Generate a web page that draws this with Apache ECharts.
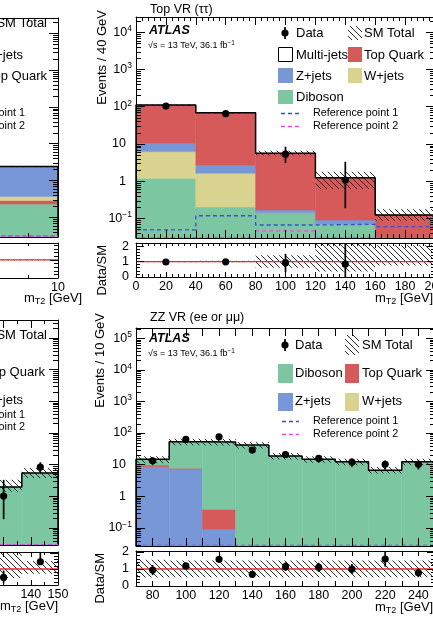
<!DOCTYPE html>
<html><head><meta charset="utf-8">
<script src="https://cdn.jsdelivr.net/npm/echarts@6/dist/echarts.min.js"></script>
<style>html,body{margin:0;padding:0;background:#fff;overflow:hidden;width:433px;height:619px;position:relative}
#c{position:absolute;left:-300px;top:0;width:800px;height:619px}</style>
</head><body><div id="c"></div>
<script>
// ===================== DATA =====================
// --- Top-left panel (only its last bin is visible) ---
const tlEdges     = [6, 10];
const tlDiboson   = [0.23];
const tlTopQuark  = [0.06];
const tlWjets     = [0.08];
const tlZjets     = [2.03];
const tlUncLo     = [0.04];
const tlUncHi     = [0.04];
const tlRef1      = [0.031];
const tlRef2      = [0.030];
const tlBandLo    = [0.97];
const tlBandHi    = [1.03];

// --- Top-right panel: Top VR (tau tau) ---
const topEdges     = [0, 40, 80, 120, 160, 200];
const topDiboson   = [1.19, 0.20, 0.14, 0.07, 0];
const topWjets     = [5.0, 1.42, 0, 0, 0];
const topZjets     = [4.3, 1.10, 0.026, 0.02, 0];
const topTopQuark  = [100, 66, 5.4, 1.14, 0.123];
const topMultijets = [0, 0, 0, 0, 0];
const topUncLo     = [0.04, 0.04, 0.12, 0.50, 0.30];
const topUncHi     = [0.04, 0.04, 0.18, 0.45, 0.43];
const topRef1      = [0.049, 0.117, 0.066, 0.069, 0.060];
const topRef2      = [0.030, 0.030, 0.046, 0.030, 0.030];
const topDataX     = [20, 60, 100, 140];
const topData      = [104, 65, 5.3, 1.07];
const topDataLo    = [94, 57, 3.1, 0.185];
const topDataHi    = [114, 73, 8.4, 3.3];
const topRatio     = [0.97, 0.98, 0.93, 0.83];
const topRatioLo   = [0.88, 0.86, 0.31, 0.0];
const topRatioHi   = [1.07, 1.10, 1.50, 2.9];
const topBandLo    = [0.96, 0.95, 0.60, 0.35, 0.75];
const topBandHi    = [1.04, 1.05, 1.40, 2.30, 2.05];

// --- Bottom-left panel (only its last two bins are visible) ---
const blEdges     = [123.3, 136.7, 150];
const blDiboson   = [1.97, 5.46];
const blUncLo     = [0.29, 0.30];
const blUncHi     = [0.68, 0.43];
const blRef1      = [0.030, 0.030];
const blRef2      = [0.030, 0.030];
const blDataX     = [130, 143.5];
const blData      = [1.02, 8.4];
const blDataLo    = [0.19, 5.9];
const blDataHi    = [3.3, 11.9];
const blRatio     = [0.47, 1.45];
const blRatioLo   = [0.10, 1.30];
const blRatioHi   = [0.90, 2.00];
const blBandLo    = [0.44, 0.70];
const blBandHi    = [2.00, 1.50];
const blTickLabels = [140, 150];

// --- Bottom-right panel: ZZ VR (ee or mumu) ---
const zzEdges     = [70, 90, 110, 130, 150, 170, 190, 210, 230, 250];
const zzZjets     = [8.6, 7.1, 0.093, 0, 0, 0, 0, 0, 0];
const zzWjets     = [0, 0, 0, 0, 0, 0, 0, 0, 0];
const zzTopQuark  = [1.1, 0.6, 0.30, 0, 0, 0, 0, 0, 0];
const zzDiboson   = [5.1, 45.3, 51.6, 41.7, 18.8, 14.8, 12.4, 6.7, 12.4];
const zzUncLo     = [0.25, 0.22, 0.22, 0.22, 0.22, 0.22, 0.22, 0.22, 0.22];
const zzUncHi     = [0.25, 0.25, 0.25, 0.25, 0.25, 0.25, 0.25, 0.25, 0.25];
const zzRef1      = [0.028, 0.028, 0.028, 0.028, 0.028, 0.028, 0.028, 0.028, 0.028];
const zzRef2      = [0.0275, 0.0275, 0.0275, 0.0275, 0.0275, 0.0275, 0.0275, 0.0275, 0.0275];
const zzDataX     = [80, 100, 120, 140, 160, 180, 200, 220, 240];
const zzData      = [13.3, 63, 76, 29, 21, 15.8, 12.1, 10.3, 10.3];
const zzDataErr   = [3.6, 7.9, 8.7, 5.4, 4.6, 4.0, 3.5, 3.2, 3.2];
const zzRatio     = [0.94, 1.18, 1.57, 0.69, 1.14, 1.10, 1.00, 1.59, 0.78];
const zzRatioErr  = [0.30, 0.17, 0.18, 0.13, 0.25, 0.27, 0.30, 0.45, 0.26];
const zzBandLo    = [0.50, 0.52, 0.52, 0.52, 0.52, 0.52, 0.52, 0.52, 0.52];
const zzBandHi    = [1.55, 1.50, 1.50, 1.50, 1.50, 1.50, 1.50, 1.50, 1.50];

// ===================== STYLE / BUILD =====================
const OFF = 300;  // the chart canvas starts 300 px left of the window
const FONT = '"Liberation Sans", Arial, Helvetica, sans-serif';
const COL = {diboson:'#7cc6a2', top:'#d65a5a', z:'#7797d7', w:'#d9d38f', multi:'#ffffff',
             ref1:'#3b4bd8', ref2:'#ee45ee', ratio:'#e8292b'};

function hatch() {
  const c = document.createElement('canvas'); c.width = 6; c.height = 6;
  const g = c.getContext('2d'); g.strokeStyle = '#2a2a2a'; g.lineWidth = 1;
  g.beginPath(); g.moveTo(0, 0); g.lineTo(6, 6); g.moveTo(-1, 5); g.lineTo(1, 7); g.moveTo(5, -1); g.lineTo(7, 1); g.stroke();
  return {type: 'pattern', image: c, repeat: 'repeat'};
}
const HATCH = hatch();

const RICH = {
  b:  {fontFamily: FONT, fontSize: 12.5, lineHeight: 16, color: '#000'},
  bp: {fontFamily: FONT, fontSize: 12.5, lineHeight: 16, color: '#000', padding: [0, 6, 0, 0]},
  s:  {fontFamily: FONT, fontSize: 8.5, lineHeight: 8, verticalAlign: 'top', color: '#000'}
};
function logLabel(v) {
  const e = Math.log10(v), r = Math.round(e);
  if (Math.abs(e - r) > 0.01) return '';
  if (r === 0) return '{bp|1}';
  if (r === 1) return '{bp|10}';
  return '{b|10}{s|' + (r < 0 ? '\u2212' + (-r) : r) + '}';
}
function intLabel(v) { return Math.abs(v - Math.round(v)) < 1e-6 ? String(Math.round(v)) : ''; }

const grids = [], xAxes = [], yAxes = [], series = [], graphics = [];
const LBL = {fontFamily: FONT, fontSize: 12.5, color: '#000'};
const BLACK = {color: '#000', width: 1};

function addPanel(P) {
  const gM = grids.length, gR = gM + 1;
  const g = {containLabel: false, outerBoundsMode: 'none'};
  grids.push(Object.assign({left: P.left + OFF, top: P.mainTop, width: P.width, height: P.mainH}, g));
  grids.push(Object.assign({left: P.left + OFF, top: P.ratTop, width: P.width, height: P.ratH}, g));
  const ax = xAxes.length, ay = yAxes.length;
  const xAx = (grid, pos, showLabel, len, mlen) => ({
    type: 'value', gridIndex: grid, position: pos, min: P.xMin, max: P.xMax, interval: P.xInt, z: 10,
    axisLine: {show: true, onZero: false, lineStyle: BLACK},
    axisTick: {show: true, inside: true, length: len, lineStyle: BLACK},
    minorTick: {show: P.xMinor > 1, splitNumber: P.xMinor, length: mlen, lineStyle: BLACK},
    splitLine: {show: false}, minorSplitLine: {show: false},
    axisLabel: showLabel ? Object.assign({margin: 3, formatter: P.xFmt, hideOverlap: false}, LBL) : {show: false}
  });
  xAxes.push(xAx(gM, 'bottom', false, 8, 4), xAx(gM, 'top', false, 8, 4),
             xAx(gR, 'bottom', true, 5, 3), xAx(gR, 'top', false, 5, 3));
  const yLog = (pos, showLabel) => ({
    type: 'log', logBase: 10, gridIndex: gM, position: pos, min: P.yMin, max: P.yMax, z: 10,
    axisLine: {show: true, onZero: false, lineStyle: BLACK},
    axisTick: {show: true, inside: true, length: 9, lineStyle: BLACK},
    minorTick: {show: false}, splitLine: {show: false},
    axisLabel: showLabel ? Object.assign({margin: 4, formatter: logLabel, rich: RICH, hideOverlap: false}, LBL) : {show: false}
  });
  const yRat = (pos, showLabel) => ({
    type: 'value', gridIndex: gR, position: pos, min: 0, max: P.rMax, interval: 1, z: 10,
    axisLine: {show: true, onZero: false, lineStyle: BLACK},
    axisTick: {show: true, inside: true, length: 8, lineStyle: BLACK},
    minorTick: {show: true, splitNumber: 5, length: 4, lineStyle: BLACK}, splitLine: {show: false},
    axisLabel: showLabel ? Object.assign({margin: 7, formatter: intLabel, hideOverlap: false}, LBL) : {show: false}
  });
  yAxes.push(yLog('left', true), yLog('right', false), yRat('left', true), yRat('right', false));
  const xM = ax, xR = ax + 2, yM = ay, yR = ay + 2;

  // stacked fills
  const nb = P.edges.length - 1, cum = new Array(nb).fill(0), items = [];
  P.comps.forEach((c, ci) => {
    for (let i = 0; i < nb; i++) {
      const v = c.vals[i]; if (!(v > 0)) continue;
      const lo = cum[i], hi = cum[i] + v; cum[i] = hi;
      items.push([P.edges[i], P.edges[i + 1], Math.max(lo, P.yMin), hi, ci]);
    }
  });
  const colors = P.comps.map(c => c.color);
  series.push(rectSeries(xM, yM, items, v => ({fill: colors[v], stroke: colors[v], lineWidth: 0.5}), 2));
  // uncertainty band
  const band = [];
  for (let i = 0; i < nb; i++) band.push([P.edges[i], P.edges[i + 1], Math.max(cum[i] * (1 - P.uncLo[i]), P.yMin), cum[i] * (1 + P.uncHi[i]), 0]);
  series.push(rectSeries(xM, yM, band, () => ({fill: HATCH}), 3));
  // total outline
  const out = [[P.edges[0], P.yMin]];
  for (let i = 0; i < nb; i++) out.push([P.edges[i], cum[i]], [P.edges[i + 1], cum[i]]);
  out.push([P.edges[nb], P.yMin]);
  series.push(lineSeries(xM, yM, out, '#000', 1.5, 'solid', 4));
  // reference signal points
  [[P.ref1, COL.ref1], [P.ref2, COL.ref2]].forEach(([r, col]) => {
    const pts = [];
    for (let i = 0; i < nb; i++) pts.push([P.edges[i], r[i]], [P.edges[i + 1], r[i]]);
    series.push(lineSeries(xM, yM, pts, col, 1.3, [4, 3], 5));
  });
  // data
  if (P.dataX) series.push(pointSeries(xM, yM, P.dataX.map((x, i) => [x, P.data[i], Math.max(P.dataLo[i], P.yMin), P.dataHi[i]])));
  // log minor ticks
  series.push(logMinor(xM, yM, P.yMin, P.yMax, P.xMin, 5));
  // ratio pad
  const rb = [];
  for (let i = 0; i < nb; i++) rb.push([P.edges[i], P.edges[i + 1], P.bandLo[i], P.bandHi[i], 0]);
  series.push(rectSeries(xR, yR, rb, () => ({fill: HATCH}), 3));
  series.push(lineSeries(xR, yR, [[P.xMin, 1], [P.xMax, 1]], COL.ratio, 1.3, 'solid', 4));
  if (P.ratio) series.push(pointSeries(xR, yR, P.dataX.map((x, i) => [x, P.ratio[i], P.ratioLo[i], P.ratioHi[i]])));
}

function rectSeries(xi, yi, items, styleFn, z) {
  return {type: 'custom', xAxisIndex: xi, yAxisIndex: yi, clip: true, silent: true, z,
    encode: {x: [0, 1], y: [2, 3]}, data: items,
    renderItem(params, api) {
      const a = api.coord([api.value(0), api.value(3)]), b = api.coord([api.value(1), api.value(2)]);
      return {type: 'rect', shape: {x: a[0], y: a[1], width: b[0] - a[0], height: b[1] - a[1]}, style: styleFn(api.value(4))};
    }};
}
function lineSeries(xi, yi, data, color, width, type, z) {
  return {type: 'line', xAxisIndex: xi, yAxisIndex: yi, data, symbol: 'none', silent: true, z, clip: true,
    lineStyle: {color, width, type}};
}
function pointSeries(xi, yi, data) {
  return {type: 'custom', xAxisIndex: xi, yAxisIndex: yi, clip: true, silent: true, z: 8,
    encode: {x: 0, y: [1, 2, 3]}, data,
    renderItem(params, api) {
      const p = api.coord([api.value(0), api.value(1)]);
      const a = api.coord([api.value(0), api.value(2)]), b = api.coord([api.value(0), api.value(3)]);
      return {type: 'group', children: [
        {type: 'line', shape: {x1: p[0], y1: a[1], x2: p[0], y2: b[1]}, style: {stroke: '#000', lineWidth: 1.7}},
        {type: 'circle', shape: {cx: p[0], cy: p[1], r: 3.6}, style: {fill: '#000'}}]};
    }};
}
function logMinor(xi, yi, yMin, yMax, xRef, len) {
  const vals = [];
  for (let e = -3; e <= 6; e++) for (let k = 2; k <= 9; k++) {
    const v = k * Math.pow(10, e); if (v > yMin && v < yMax) vals.push([xRef, v]);
  }
  return {type: 'custom', xAxisIndex: xi, yAxisIndex: yi, silent: true, z: 12, encode: {x: 0, y: 1}, data: vals,
    renderItem(params, api) {
      const cs = params.coordSys, p = api.coord([api.value(0), api.value(1)]), y = Math.round(p[1]) + 0.5;
      return {type: 'group', children: [
        {type: 'line', shape: {x1: cs.x, y1: y, x2: cs.x + len, y2: y}, style: {stroke: '#000', lineWidth: 1}},
        {type: 'line', shape: {x1: cs.x + cs.width - len, y1: y, x2: cs.x + cs.width, y2: y}, style: {stroke: '#000', lineWidth: 1}}]};
    }};
}

// ---- panels ----
addPanel({left: -241, width: 299, mainTop: 18, mainH: 219, ratTop: 243, ratH: 35,
  xMin: 0, xMax: 10, xInt: 5, xMinor: 5, xFmt: v => String(v),
  yMin: Math.pow(10, -1.53), yMax: Math.pow(10, 4.41), rMax: 1.94,
  edges: tlEdges, comps: [{vals: tlDiboson, color: COL.diboson}, {vals: tlTopQuark, color: COL.top},
                          {vals: tlWjets, color: COL.w}, {vals: tlZjets, color: COL.z}],
  uncLo: tlUncLo, uncHi: tlUncHi, ref1: tlRef1, ref2: tlRef2, bandLo: tlBandLo, bandHi: tlBandHi});

addPanel({left: 136, width: 299, mainTop: 17, mainH: 221, ratTop: 243, ratH: 34,
  xMin: 0, xMax: 200, xInt: 20, xMinor: 5, xFmt: v => String(v),
  yMin: Math.pow(10, -1.53), yMax: Math.pow(10, 4.41), rMax: 2.2,
  edges: topEdges, comps: [{vals: topDiboson, color: COL.diboson}, {vals: topWjets, color: COL.w},
                           {vals: topZjets, color: COL.z}, {vals: topTopQuark, color: COL.top},
                           {vals: topMultijets, color: COL.multi}],
  uncLo: topUncLo, uncHi: topUncHi, ref1: topRef1, ref2: topRef2,
  dataX: topDataX, data: topData, dataLo: topDataLo, dataHi: topDataHi,
  ratio: topRatio, ratioLo: topRatioLo, ratioHi: topRatioHi, bandLo: topBandLo, bandHi: topBandHi});

addPanel({left: -241, width: 299, mainTop: 320, mainH: 225, ratTop: 552, ratH: 33,
  xMin: 40, xMax: 150, xInt: 10, xMinor: 2, xFmt: v => (blTickLabels.includes(v) ? String(v) : ''),
  yMin: Math.pow(10, -1.537), yMax: Math.pow(10, 5.568), rMax: 2.06,
  edges: blEdges, comps: [{vals: blDiboson, color: COL.diboson}],
  uncLo: blUncLo, uncHi: blUncHi, ref1: blRef1, ref2: blRef2,
  dataX: blDataX, data: blData, dataLo: blDataLo, dataHi: blDataHi,
  ratio: blRatio, ratioLo: blRatioLo, ratioHi: blRatioHi, bandLo: blBandLo, bandHi: blBandHi});

addPanel({left: 136, width: 299, mainTop: 328, mainH: 218, ratTop: 551, ratH: 35,
  xMin: 70, xMax: 250, xInt: 10, xMinor: 1, xFmt: v => (v % 20 === 0 ? String(v) : ''),
  yMin: Math.pow(10, -1.57), yMax: Math.pow(10, 5.32), rMax: 2.06,
  edges: zzEdges, comps: [{vals: zzZjets, color: COL.z}, {vals: zzWjets, color: COL.w},
                          {vals: zzTopQuark, color: COL.top}, {vals: zzDiboson, color: COL.diboson}],
  uncLo: zzUncLo, uncHi: zzUncHi, ref1: zzRef1, ref2: zzRef2,
  dataX: zzDataX, data: zzData, dataLo: zzData.map((d, i) => d - zzDataErr[i]), dataHi: zzData.map((d, i) => d + zzDataErr[i]),
  ratio: zzRatio, ratioLo: zzRatio.map((r, i) => r - zzRatioErr[i]), ratioHi: zzRatio.map((r, i) => r + zzRatioErr[i]),
  bandLo: zzBandLo, bandHi: zzBandHi});

// ---- texts & legends (window coordinates, shifted by OFF) ----
function txt(x, y, text, size, extra) {
  return {type: 'text', x: x + OFF, y, silent: true, z: 100,
    style: Object.assign({text, fontFamily: FONT, fontSize: size, fill: '#000', align: 'left', verticalAlign: 'middle'}, extra || {})};
}
function vtxt(x, y, text, size) {
  return {type: 'text', x: x + OFF, y, rotation: Math.PI / 2, silent: true, z: 100,
    style: {text, fontFamily: FONT, fontSize: size, fill: '#000', align: 'right', verticalAlign: 'middle'}};
}
const SUBR = {sub: {fontFamily: FONT, fontSize: 9, lineHeight: 8, verticalAlign: 'bottom', fill: '#000'}};
const SUPR = {sup: {fontFamily: FONT, fontSize: 6.5, lineHeight: 6, verticalAlign: 'top', fill: '#000'}};
function xTitle(x, y) { return txt(x, y, 'm{sub|T2} [GeV]', 13, {rich: SUBR, lineHeight: 16}); }
function box(x, y, w, h, fill, stroke) {
  return {type: 'rect', silent: true, z: 100, shape: {x: x + OFF, y, width: w, height: h},
    style: stroke ? {fill, stroke, lineWidth: 1} : {fill}};
}
function dash(x1, x2, y, col) {
  return {type: 'line', silent: true, z: 100, shape: {x1: x1 + OFF, y1: y, x2: x2 + OFF, y2: y}, style: {stroke: col, lineWidth: 1.3, lineDash: [4, 3]}};
}
function dataMark(x, y) {
  return [{type: 'line', silent: true, z: 100, shape: {x1: x + OFF, y1: y - 6, x2: x + OFF, y2: y + 6}, style: {stroke: '#000', lineWidth: 1.7}},
          {type: 'circle', silent: true, z: 100, shape: {cx: x + OFF, cy: y, r: 3.6}, style: {fill: '#000'}}];
}

// top-left (cut) legend texts
graphics.push(
  txt(47, 23, 'SM Total', 13, {align: 'right'}),
  txt(23, 55, 'Z+jets', 13, {align: 'right'}),
  txt(47, 76, 'Top Quark', 13, {align: 'right'}),
  txt(25, 113, 'Reference point 1', 10.8, {align: 'right'}),
  txt(25, 126, 'Reference point 2', 10.8, {align: 'right'}),
  xTitle(24, 298)
);
// top-right
graphics.push(
  txt(150, 10, 'Top VR (\u03c4\u03c4)', 12.5),
  txt(149, 31, 'ATLAS', 12.5, {fontWeight: 'bold', fontStyle: 'italic'}),
  txt(148, 46, '\u221as = 13 TeV, 36.1 fb{sup|\u22121}', 9, {rich: SUPR, lineHeight: 12}),
  vtxt(102, 10, 'Events / 40 GeV', 13),
  vtxt(102, 245, 'Data/SM', 13),
  xTitle(375, 298),
  ...dataMark(285, 33), txt(296, 33, 'Data', 13),
  box(348, 26, 14, 14, HATCH), txt(364, 33, 'SM Total', 13),
  box(278.5, 47.5, 14, 14, '#fff', '#000'), txt(296, 55, 'Multi-jets', 13),
  box(348, 47, 14, 15, COL.top), txt(364, 55, 'Top Quark', 13),
  box(278, 68, 15, 15, COL.z), txt(296, 76, 'Z+jets', 13),
  box(348, 68, 14, 15, COL.w), txt(364, 76, 'W+jets', 13),
  box(278, 90, 15, 14, COL.diboson), txt(296, 97, 'Diboson', 13),
  dash(281, 299, 113.5, COL.ref1), txt(313, 113, 'Reference point 1', 10.8),
  dash(281, 299, 126.5, COL.ref2), txt(313, 126, 'Reference point 2', 10.8)
);
// bottom-left (cut) legend texts
graphics.push(
  txt(47, 335, 'SM Total', 13, {align: 'right'}),
  txt(45, 372, 'Top Quark', 13, {align: 'right'}),
  txt(23, 400, 'W+jets', 13, {align: 'right'}),
  txt(25, 415, 'Reference point 1', 10.8, {align: 'right'}),
  txt(25, 427, 'Reference point 2', 10.8, {align: 'right'}),
  xTitle(0, 606)
);
// bottom-right
graphics.push(
  txt(150, 318, 'ZZ VR (ee or \u03bc\u03bc)', 12.5),
  txt(149, 339, 'ATLAS', 12.5, {fontWeight: 'bold', fontStyle: 'italic'}),
  txt(148, 354, '\u221as = 13 TeV, 36.1 fb{sup|\u22121}', 9, {rich: SUPR, lineHeight: 12}),
  vtxt(100, 313, 'Events / 10 GeV', 13),
  vtxt(100, 553, 'Data/SM', 13),
  xTitle(375, 607),
  ...dataMark(285, 345), txt(295, 345, 'Data', 13),
  box(345, 335, 14, 20, HATCH), txt(362, 345, 'SM Total', 13),
  box(278, 364, 15, 19, COL.diboson), txt(295, 373, 'Diboson', 13),
  box(345, 364, 14, 19, COL.top), txt(362, 373, 'Top Quark', 13),
  box(278, 393, 15, 18, COL.z), txt(295, 401, 'Z+jets', 13),
  box(345, 393, 14, 18, COL.w), txt(362, 401, 'W+jets', 13),
  dash(282, 299, 421.5, COL.ref1), txt(313, 421, 'Reference point 1', 10.8),
  dash(282, 299, 434.5, COL.ref2), txt(313, 434, 'Reference point 2', 10.8)
);

const chart = echarts.init(document.getElementById('c'), null, {renderer: 'canvas'});
chart.setOption({
  animation: false, backgroundColor: '#fff',
  grid: grids, xAxis: xAxes, yAxis: yAxes, series,
  graphic: {elements: graphics}
});
</script></body></html>
